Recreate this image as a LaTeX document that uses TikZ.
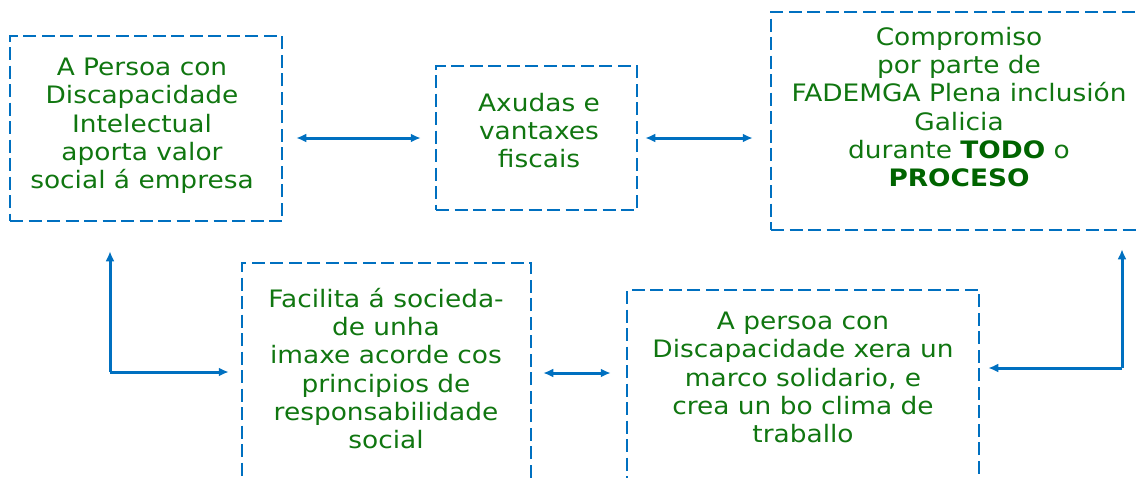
\documentclass[tikz,border=0pt]{standalone}
\usepackage{fontspec}
\setmainfont[FakeStretch=1.1]{DejaVu Sans}
\usetikzlibrary{arrows.meta}
\definecolor{lineblue}{RGB}{0,112,192}
\definecolor{txtgreen}{RGB}{16,118,16}
\definecolor{boldgreen}{RGB}{0,100,0}
\tikzset{
  dbox/.style={draw=lineblue, line width=2.5pt, dash pattern=on 13pt off 5.5pt, rectangle, inner sep=0pt},
  txt/.style={text=txtgreen, align=center, inner sep=0pt, font=\fontsize{24}{28.3}\selectfont},
  conn/.style={draw=lineblue, line width=3pt, -{Latex[length=10pt,width=9pt]}},
  dconn/.style={draw=lineblue, line width=3pt, {Latex[length=10pt,width=9pt]}-{Latex[length=10pt,width=9pt]}}
}
\newcommand{\bg}[1]{\textcolor{boldgreen}{\textbf{#1}}}
\begin{document}
\begin{tikzpicture}[x=1pt,y=-1pt]
\useasboundingbox (0,0) rectangle (1140,477);
% boxes
\node[dbox, minimum width=272pt, minimum height=185pt] (b1) at (146,128.5) {};
\node[dbox, minimum width=201pt, minimum height=144pt] (b2) at (536.5,138) {};
\node[dbox, minimum width=378pt, minimum height=218pt] (b3) at (960,121) {};
\node[dbox, minimum width=289pt, minimum height=240pt] (b4) at (386.5,383) {};
\node[dbox, minimum width=352pt, minimum height=220pt] (b5) at (803,400) {};
% texts
\node[txt] (t1) at (142,126) {A Persoa con\\Discapacidade\\Intelectual\\aporta valor\\social á empresa};
\node[txt] (t2) at (539,130.5) {Axudas e\\vantaxes\\fiscais};
\node[txt] (t3) at (959,107) {Compromiso\\por parte de\\FADEMGA Plena inclusión\\Galicia\\durante \bg{TODO} o\\\bg{PROCESO}};
\node[txt] (t4) at (386,368.5) {Facilita á socieda-\\de unha\\imaxe acorde cos\\principios de\\responsabilidade\\social};
\node[txt] (t5) at (803,377.5) {A persoa con\\Discapacidade xera un\\marco solidario, e\\crea un bo clima de\\traballo};
% connectors
\draw[dconn, shorten <=13pt, shorten >=14pt] (b1.east |- b2.west) -- (b2.west);
\draw[dconn, shorten <=7pt, shorten >=17pt] (b2.east) -- (b2.east -| b3.west);
\coordinate (cl) at (110,372);
\draw[conn, shorten >=29pt] (cl) -- (cl |- b1.south);
\draw[conn, shorten >=12pt] (cl) -- (cl -| b4.west);
\coordinate (m45) at (570,373);
\draw[dconn, shorten <=11pt, shorten >=15pt] (m45 -| b4.east) -- (m45 -| b5.west);
\coordinate (cr) at (1122,368);
\draw[conn, shorten >=18pt] (cr) -- (cr |- b3.south);
\draw[conn, shorten >=8pt] (cr) -- (cr -| b5.east);
\end{tikzpicture}
\end{document}
